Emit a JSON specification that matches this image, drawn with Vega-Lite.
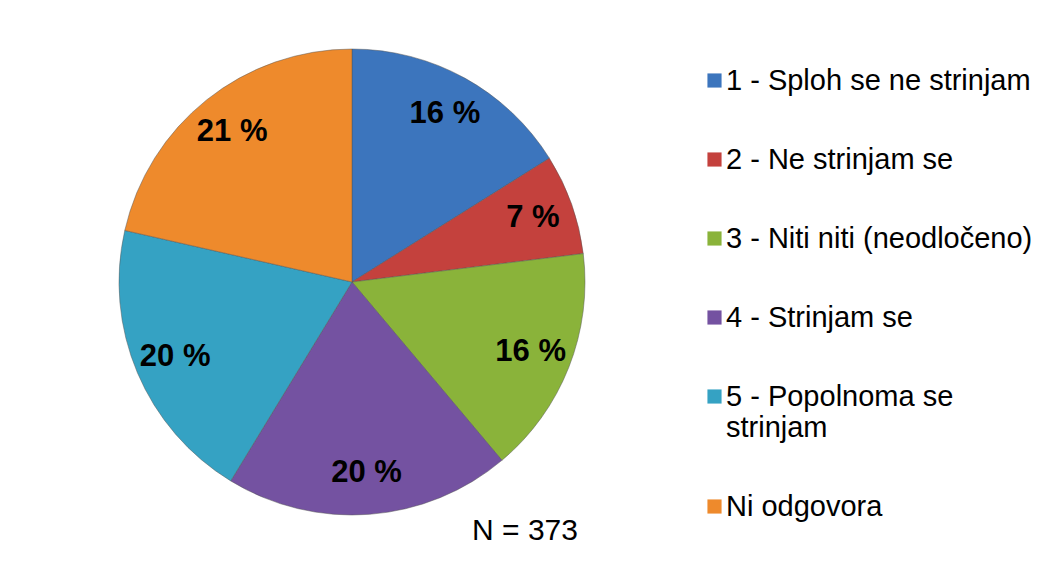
{
  "$schema": "https://vega.github.io/schema/vega-lite/v6.json",
  "width": 688,
  "height": 556,
  "autosize": {"type": "pad"},
  "padding": {"left": 8, "top": 4, "right": 0, "bottom": 0},
  "background": "white",
  "title": {
    "text": "N = 373",
    "orient": "bottom",
    "anchor": "middle",
    "dx": 173,
    "offset": -44,
    "font": "Liberation Sans",
    "fontSize": 30,
    "fontWeight": "normal",
    "color": "#000000"
  },
  "data": {
    "values": [
      {"cat": "1 - Sploh se ne strinjam", "ord": 1, "n": 60, "label": "16 %"},
      {"cat": "2 - Ne strinjam se", "ord": 2, "n": 26, "label": "7 %"},
      {"cat": "3 - Niti niti (neodločeno)", "ord": 3, "n": 59, "label": "16 %"},
      {"cat": "4 - Strinjam se", "ord": 4, "n": 74, "label": "20 %"},
      {"cat": "5 - Popolnoma se strinjam", "ord": 5, "n": 74, "label": "20 %"},
      {"cat": "Ni odgovora", "ord": 6, "n": 80, "label": "21 %"}
    ]
  },
  "encoding": {
    "theta": {"field": "n", "type": "quantitative", "stack": true},
    "order": {"field": "ord", "type": "quantitative"}
  },
  "layer": [
    {
      "mark": {"type": "arc", "outerRadius": 233, "stroke": "#555555", "strokeWidth": 0.8, "strokeOpacity": 0.6},
      "encoding": {
        "color": {
          "field": "cat",
          "type": "nominal",
          "sort": ["1 - Sploh se ne strinjam", "2 - Ne strinjam se", "3 - Niti niti (neodločeno)", "4 - Strinjam se", "5 - Popolnoma se strinjam", "Ni odgovora"],
          "scale": {
            "domain": ["1 - Sploh se ne strinjam", "2 - Ne strinjam se", "3 - Niti niti (neodločeno)", "4 - Strinjam se", "5 - Popolnoma se strinjam", "Ni odgovora"],
            "range": ["#3C75BD", "#C4413D", "#8AB33A", "#7452A1", "#35A2C3", "#EE8A2C"]
          },
          "legend": {
            "orient": "none",
            "legendX": 692,
            "legendY": 62,
            "title": null,
            "padding": 0,
            "symbolType": "square",
            "symbolSize": 200,
            "symbolStrokeWidth": 0,
            "symbolOpacity": 1,
            "labelFont": "Liberation Sans",
            "labelFontSize": 29,
            "labelColor": "#000000",
            "labelOffset": -3,
            "labelLimit": 400,
            "rowPadding": 49,
            "labelExpr": "datum.label == '5 - Popolnoma se strinjam' ? ['5 - Popolnoma se', 'strinjam'] : datum.label"
          }
        }
      }
    },
    {
      "mark": {"type": "text", "radius": 192, "font": "Liberation Sans", "fontSize": 31, "fontWeight": "bold", "color": "#000000"},
      "encoding": {
        "text": {"field": "label", "type": "nominal"}
      }
    }
  ]
}
